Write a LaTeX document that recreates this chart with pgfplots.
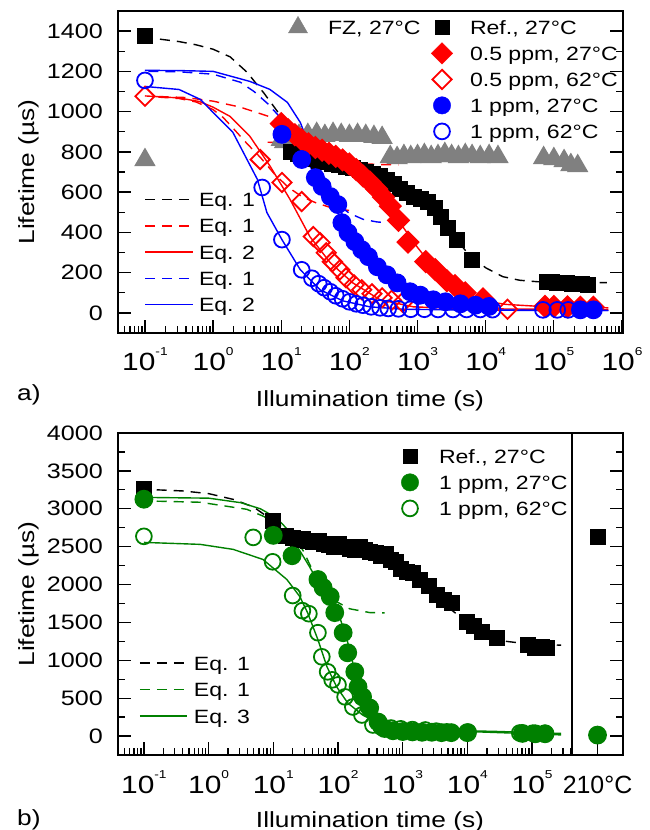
\documentclass[border=0pt]{standalone}
\usepackage{fontspec}
\setmainfont{Liberation Sans}[FakeStretch=1.2]
\newfontfamily\plainsans{Liberation Sans}
\usepackage{pgfplots}
\pgfplotsset{compat=1.18}

\definecolor{fzgray}{RGB}{128,128,128}
\definecolor{dgreen}{RGB}{0,128,0}
\newcommand\ytk{\fontsize{21}{25}\selectfont}
\newcommand\xtk{\fontsize{25}{29}\selectfont}
\newcommand\lab{\fontsize{22}{26}\selectfont}
\newcommand\lgf{\fontsize{19.3}{23}\selectfont}
\newcommand\ep[1]{10\raisebox{15bp}{\fontsize{11.5}{12}\selectfont #1}}

\tikzset{dsh/.style={dash pattern=on 10bp off 7bp}}

\pgfplotsset{
  panel/.style={scale only axis, anchor=south west,
    axis line style={line width=1.3bp},
    every tick/.style={line width=1.3bp, black},
    major tick length=13bp, minor tick length=7bp, tick align=inside,
    xtick pos=bottom, scaled y ticks=false,
    yticklabel style={font=\ytk, anchor=east, inner sep=0pt, xshift=-15bp,
      /pgf/number format/assume math mode=true, /pgf/number format/1000 sep={}},
    xticklabel style={font=\xtk, anchor=base, inner sep=0pt, yshift=-38bp},
    every axis plot/.append style={line width=1.4bp}},
  decx/.style={
    xtick={0.1,1,10,100,1000,10000,100000,1000000},
    xticklabels={\ep{-1},\ep{0},\ep{1},\ep{2},\ep{3},\ep{4},\ep{5},\ep{6}},
    minor xtick={0.05,0.06,0.07,0.08,0.09,0.2,0.3,0.4,0.5,0.6,0.7,0.8,0.9,2,3,4,5,6,7,8,9,20,30,40,50,60,70,80,90,200,300,400,500,600,700,800,900,2000,3000,4000,5000,6000,7000,8000,9000,20000,30000,40000,50000,60000,70000,80000,90000,200000,300000,400000,500000,600000,700000,800000,900000}},
  % legend-only axes spanning the whole picture; every legend row is 26bp high:
  % an invisible box from 6.5bp below to 19.5bp above the text baseline
  legax/.style={at={(0bp,0bp)}, anchor=south west, width=650bp, height=830bp,
    scale only axis, hide axis, xmin=0, xmax=650, ymin=0, ymax=830,
    legend style={draw=none, fill=none, inner sep=0pt, outer sep=0pt,
      column sep=0pt, font=\lgf, anchor=north west,
      cells={anchor=base west},
      nodes={inner sep=0pt, text height=13.8bp, text depth=0pt}}},
  markleg/.style={legax, legend image code/.code={%
      \draw[##1, overlay] plot coordinates {(0bp,6.9bp)};
      \path[draw=none, fill=none] (-12bp,-6.5bp) rectangle (#1,19.5bp);}},
  lineleg/.style={legax, legend image code/.code={%
      \draw[##1, overlay] (0bp,7bp) -- (#1,7bp);
      \path[draw=none, fill=none] (0bp,-6.5bp) rectangle (54bp,19.5bp);}},
  sq/.style={only marks, mark=square*, mark size=7.3bp, black},
  dia/.style={only marks, mark=square*, mark size=7.6bp, red, mark options={rotate=45}},
  odia/.style={only marks, mark=square, mark size=6.8bp, red, mark options={rotate=45, line width=1.8bp}},
  tri/.style={only marks, mark=triangle*, mark size=11bp, fzgray},
  dot/.style={only marks, mark=*, mark size=8.7bp, #1},
  ring/.style={only marks, mark=o, mark size=7.9bp, #1, mark options={line width=1.8bp}},
  fitline/.style={draw=#1, line width=1.5bp},
}

\begin{document}
\begin{tikzpicture}
\useasboundingbox (0,0) rectangle (650bp,830bp);

% ---------------- panel a ----------------
\begin{axis}[xmode=log, panel, decx, at={(118bp,497bp)}, width=505bp, height=322bp,
  xmin=0.0402, xmax=1.035e6, ymin=-100, ymax=1500,
  ytick={0,200,...,1400}, minor y tick num=1, ytick pos=both,
  xlabel={Illumination time (s)}, ylabel={Lifetime (µs)},
  xlabel style={font=\lab, at={(axis description cs:0.499,-0.2298)}, anchor=base},
  ylabel style={font=\lab, at={(axis description cs:-0.1663,0.5)}, anchor=base}]

% FZ, 27 C
\addplot[tri] coordinates {(0.1,760)
 (10,860) (11.22,850) (13.49,870) (18.20,880) (24.55,885) (33.11,890) (43.65,880)
 (57.54,890) (75.86,885) (100,880) (131.8,885) (173.8,880) (229.1,875) (302.0,870)
 (398.1,775) (501.2,770) (631.0,780) (794.3,775) (1000,780) (1259,785) (1585,775)
 (1995,780) (2512,790) (3162,780) (3981,775) (5012,785) (6310,780) (8318,775)
 (11220,780) (15140,775)
 (70790,770) (100000,765) (141300,755) (177800,735) (223900,730)};
% Ref., 27 C
\addplot[sq] coordinates {(0.1,1375)
 (14.1,800) (17.8,790) (22.4,775) (28.2,765) (35.5,755) (44.7,748) (56.2,740)
 (70.8,733) (89.1,725) (112,718) (141,710) (178,700) (224,690) (282,678) (355,662)
 (447,640) (562,615) (708,595) (891,578) (1122,565) (1413,550) (1778,520) (2239,475)
 (2818,420) (3802,364) (6310,265)
 (79430,155) (93330,152) (112200,150) (131800,148) (158500,146) (186200,145)
 (223900,143) (263000,141) (316200,140)};
% 0.5 ppm, 27 C
\addplot[dia] coordinates {
 (10,940) (12.59,910) (15.85,885) (19.95,860) (25.12,840) (31.62,822) (39.81,808)
 (50.12,793) (63.10,778) (79.43,760) (100,740) (125.9,712) (158.5,680) (199.5,650)
 (251.2,615) (316.2,575) (398.1,530) (524.8,460) (724.4,352) (1318,255) (1820,215)
 (2692,160) (3548,135) (5012,100) (9120,70)
 (74130,32) (100000,32) (158500,30) (245500,28) (380200,28)};
% 0.5 ppm, 62 C
\addplot[odia] coordinates {(0.1,1076)
 (4.898,762) (10.23,648) (19.95,553) (29.51,379) (37.15,349) (45.71,299) (56.23,254)
 (72.44,214) (89.13,174) (117.5,139) (151.4,115) (213.8,95) (302,75) (416.9,62)
 (602.6,52) (20890,18)};
% 1 ppm, 27 C
\addplot[dot=blue] coordinates {
 (10.23,887) (19.95,762) (31.62,672) (39.81,628) (52.48,578) (67.61,538) (77.62,448)
 (95.50,398) (120.2,354) (151.4,314) (190.5,279) (257,229) (354.8,189) (501.2,149)
 (776.2,105) (1096,88) (1698,65) (2570,55) (4266,45) (7079,38) (11220,32)
 (245500,15) (380200,15)};
% 1 ppm, 62 C
\addplot[ring=blue] coordinates {(0.1,1155)
 (5.248,623) (10.23,364) (19.95,214) (28.18,172) (35.48,145) (42.66,125) (52.48,105)
 (63.10,85) (79.43,70) (100,55) (125.9,45) (158.5,38) (208.9,30) (281.8,25)
 (371.5,22) (524.8,20) (794.3,18) (1259,18) (1995,17) (3311,17) (5248,17) (8318,17)
 (12590,16) (69180,15) (112200,15) (162200,15)};

% fits
\addplot[black, dsh, no marks] coordinates {
 (0.166,1360) (0.316,1348) (0.562,1332) (1,1310) (1.778,1272) (3.162,1195) (5.623,1090)
 (10,975) (17.78,880) (31.62,815) (56.23,768) (100,730) (177.8,700) (316.2,668)
 (562.3,620) (1000,565) (1778,495) (3162,395) (5623,290) (10000,224) (17780,180)
 (31620,162) (56230,155) (100000,152) (251200,150) (602600,150)};
\addplot[red, dsh, no marks] coordinates {
 (0.158,1075) (0.398,1070) (1,1052) (2.512,1022) (6.310,978) (10,945) (15.85,895)
 (25.12,845) (39.81,800) (63.10,768) (100,750) (158.5,741) (281.8,737) (524.8,735)};
\addplot[red, dsh, no marks] coordinates {
 (0.158,1072) (0.316,1065) (0.562,1048) (1,1010) (1.413,970) (1.995,915) (3.162,840)
 (5.012,770) (7.943,690) (12.59,625) (19.95,578) (31.62,548) (50.12,526) (79.43,512)
 (112.2,508)};
\addplot[red, no marks] coordinates {
 (0.1,1078) (0.316,1068) (0.631,1050) (1,1022) (1.778,976) (3.467,877) (6.918,727)
 (13.49,563) (26.30,379) (52.48,249) (112.2,149) (281.8,65) (871,30) (2138,25)
 (10000,20) (100000,18) (631000,15)};
\addplot[red, no marks] coordinates {
 (6.31,848) (10,845) (15.85,838) (25.12,825) (39.81,805) (63.10,775) (100,735)
 (158.5,680) (251.2,610) (398.1,525) (631,420) (1000,325) (1585,240) (2512,168)
 (3981,115) (6310,80) (10000,58) (19950,42) (50120,34) (158500,29) (631000,25)};
\addplot[blue, dsh, no marks] coordinates {
 (0.112,1200) (0.316,1198) (1,1186) (2.512,1146) (3.981,1100) (6.31,1040) (10,965)
 (15.85,860) (25.12,740) (39.81,630) (63.10,545) (100,495) (158.5,465) (251.2,452)
 (354.8,448)};
\addplot[blue, no marks] coordinates {
 (0.1,1205) (0.316,1204) (1,1200) (3.467,1150) (6.761,1111) (12.30,1046) (19.05,946)
 (29.51,777) (46.77,648) (72.44,513) (112.2,379) (199.5,264) (398.1,164) (1000,80)
 (2138,30) (10000,15) (100000,12) (631000,12)};
\addplot[blue, no marks] coordinates {
 (0.1,1125) (0.316,1110) (0.646,1061) (1.950,897) (4.467,663) (6.166,498) (10.23,364)
 (19.05,214) (37.15,115) (79.43,60) (199.5,30) (631,18) (10000,13) (631000,12)};
\end{axis}

% ---------------- panel b ----------------
\begin{axis}[xmode=log, panel, decx, at={(118bp,75bp)}, width=454bp, height=322bp,
  xmin=0.0398, xmax=4.14e5, ymin=-250, ymax=4000,
  ytick={0,500,...,4000}, minor y tick num=1, ytick pos=left,
  xlabel={Illumination time (s)}, ylabel={Lifetime (µs)},
  xlabel style={font=\lab, at={(axis description cs:0.555,-0.2236)}, anchor=base},
  ylabel style={font=\lab, at={(axis description cs:-0.185,0.5)}, anchor=base}]
\addplot[sq] coordinates {(0.1,3258)
 (10,2834) (15.85,2640) (19.95,2610) (23.99,2590) (28.84,2600) (34.67,2580) (41.69,2560)
 (50.12,2570) (60.26,2540) (72.44,2520) (87.10,2500) (104.7,2540) (125.9,2490)
 (151.4,2470) (182,2460) (218.8,2500) (263,2450) (316.2,2430) (380.2,2420) (457.1,2380)
 (549.5,2400) (660.7,2330) (794.3,2300) (955,2200) (1148,2170) (1445,2150) (1862,2066)
 (2512,1980) (3388,1868) (4365,1800) (5754,1762) (9772,1510) (12590,1450) (16600,1377)
 (28840,1298) (87100,1205) (109600,1166) (141300,1180) (169800,1166)};
\addplot[dot=dgreen] coordinates {(0.1,3126)
 (10,2649) (19.5,2380) (48.98,2066) (58.88,1960) (75.86,1841) (89.13,1629) (120.2,1364)
 (141.3,1099) (182,848) (204.2,649) (239.9,517) (309,371) (416.9,185) (524.8,100)
 (707.9,70) (1000,60) (1413,55) (1995,50) (2818,50) (3981,45) (5623,45) (10000,45)
 (70790,35) (112200,30) (158500,30)};
\addplot[ring=dgreen] coordinates {(0.1,2636)
 (4.898,2622) (9.772,2300) (19.95,1855) (28.18,1655) (35.48,1615) (48.98,1364)
 (56.23,1046) (69.18,848) (81.28,742) (100,675) (128.8,517) (169.8,384) (234.4,278)
 (346.7,146) (467.7,119) (660.7,106) (933.3,95) (1413,85) (2239,80) (3311,65)
 (4786,55) (10230,53) (64570,40) (102300,38) (158500,36)};

\addplot[black, dsh, no marks] coordinates {
 (0.158,3250) (0.398,3235) (1,3200) (2.512,3120) (5.012,3020) (7.943,2900) (12.59,2750)
 (19.95,2640) (39.81,2570) (100,2510) (251.2,2440) (631,2330) (1259,2150) (2512,1950)
 (5012,1700) (10000,1500) (19950,1350) (39810,1250) (100000,1210) (281800,1200)};
\addplot[dgreen, dsh, no marks] coordinates {
 (0.158,3100) (0.741,3086) (3.890,2993) (7.079,2900) (14.13,2755) (19.95,2640)
 (28.84,2450) (39.81,2200) (52.48,1990) (83.18,1800) (151.4,1680) (309,1630)
 (524.8,1625)};
\addplot[dgreen, no marks] coordinates {
 (0.1,3150) (1,3140) (3.162,3080) (6.31,3000) (11.22,2880) (17.78,2700) (25.12,2460)
 (35.48,2250) (40.74,2159) (63.10,1900) (95.50,1709) (117.5,1450) (138,1272) (166,1000)
 (195,742) (234.4,500) (281.8,305) (354.8,180) (446.7,120) (631,90) (1000,80)
 (3162,70) (10000,60) (31620,45) (100000,30) (281800,15)};
\addplot[dgreen, no marks] coordinates {
 (0.1,2556) (0.741,2530) (2.399,2464) (6.918,2331) (16.22,2066) (25.70,1841)
 (33.88,1629) (48.98,1272) (67.61,914) (95.5,649) (141.3,437) (239.9,278) (446.7,160)
 (794.3,110) (1585,90) (3981,80) (10000,70) (31620,60) (100000,45) (281800,35)};
\end{axis}

% 210 C column
\begin{axis}[panel, at={(572bp,75bp)}, width=51bp, height=322bp,
  xmin=0, xmax=1, ymin=-250, ymax=4000,
  xtick={0.5}, xticklabels={\plainsans 210°C},
  ytick={0,500,...,4000}, minor y tick num=1, ytick pos=right, yticklabels={}]
\addplot[sq] coordinates {(0.5,2622)};
\addplot[dot=dgreen] coordinates {(0.5,13)};
\end{axis}

% ---------------- legends ----------------
\begin{axis}[markleg=30bp, legend style={at={(axis description cs:0.44,0.98217)}}]
\addlegendimage{tri}
\addlegendentry{FZ, 27°C}
\end{axis}

\begin{axis}[markleg=28bp, legend style={at={(axis description cs:0.66154,0.98217)}, row sep=0pt}]
\addlegendimage{sq}
\addlegendentry{Ref., 27°C}
\addlegendimage{dia}
\addlegendentry{0.5 ppm, 27°C}
\addlegendimage{odia}
\addlegendentry{0.5 ppm, 62°C}
\addlegendimage{dot=blue}
\addlegendentry{1 ppm, 27°C}
\addlegendimage{ring=blue}
\addlegendentry{1 ppm, 62°C}
\end{axis}

\begin{axis}[lineleg=48bp, legend style={at={(axis description cs:0.22308,0.77470)}, row sep=0.3bp}]
\addlegendimage{fitline=black, dsh}
\addlegendentry{Eq. 1}
\addlegendimage{fitline=red, dsh}
\addlegendentry{Eq. 1}
\addlegendimage{fitline=red}
\addlegendentry{Eq. 2}
\addlegendimage{fitline=blue, dsh}
\addlegendentry{Eq. 1}
\addlegendimage{fitline=blue}
\addlegendentry{Eq. 2}
\end{axis}

\begin{axis}[markleg=29bp, legend style={at={(axis description cs:0.61231,0.46530)}, row sep=0pt}]
\addlegendimage{sq}
\addlegendentry{Ref., 27°C}
\addlegendimage{dot=dgreen}
\addlegendentry{1 ppm, 27°C}
\addlegendimage{ring=dgreen}
\addlegendentry{1 ppm, 62°C}
\end{axis}

\begin{axis}[lineleg=47bp, legend style={at={(axis description cs:0.21538,0.21627)}, row sep=0.5bp}]
\addlegendimage{fitline=black, dsh}
\addlegendentry{Eq. 1}
\addlegendimage{fitline=dgreen, dsh}
\addlegendentry{Eq. 1}
\addlegendimage{fitline=dgreen}
\addlegendentry{Eq. 3}
\end{axis}

\node[anchor=base west, inner sep=0pt, font=\lab] at (17bp,429bp) {a)};
\node[anchor=base west, inner sep=0pt, font=\lab] at (17bp,5bp) {b)};
\end{tikzpicture}
\end{document}
